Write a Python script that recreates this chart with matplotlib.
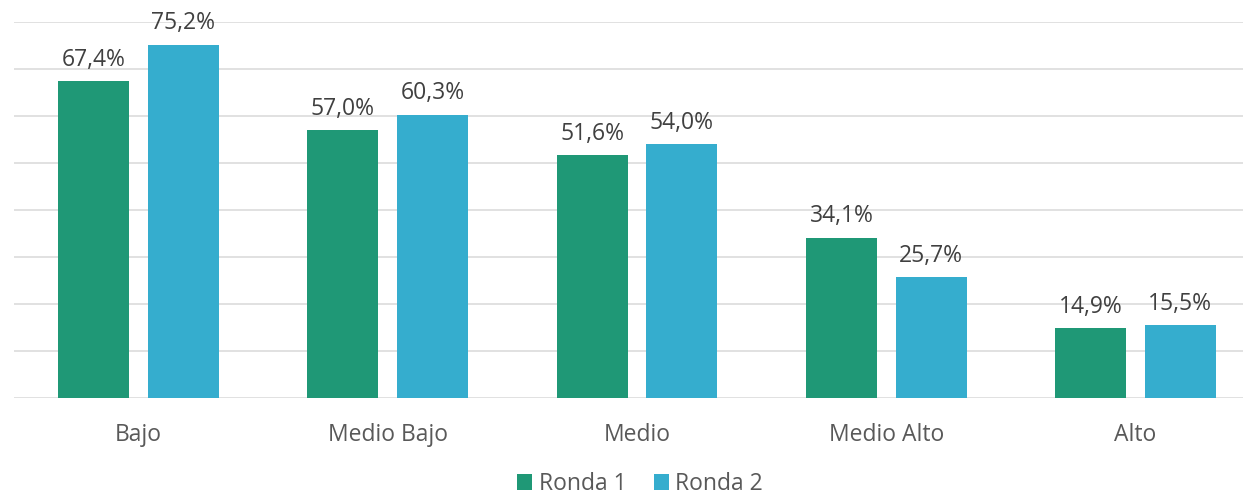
import matplotlib.pyplot as plt
import numpy as np

categories = ["Bajo", "Medio Bajo", "Medio", "Medio Alto", "Alto"]
ronda_1 = [67.4, 57.0, 51.6, 34.1, 14.9]
ronda_2 = [75.2, 60.3, 54.0, 25.7, 15.5]
series_names = ["Ronda 1", "Ronda 2"]

GREEN = "#1f9876"
BLUE = "#35adce"
TEXT = "#404040"
GRAY = "#595959"


def fmt(v):
    return f"{v:.1f}%".replace(".", ",")


def main():
    plt.rcParams["font.family"] = ["Open Sans", "DejaVu Sans"]
    fig = plt.figure(figsize=(12.43, 4.97), dpi=100)
    ax = fig.add_axes([14 / 1243, 1 - 398 / 497, 1 - 14 / 1243, (398 - 22) / 497])

    x = np.arange(len(categories))
    w = 0.285
    off = 0.18
    b1 = ax.bar(x - off, ronda_1, w, color=GREEN, label=series_names[0], zorder=3)
    b2 = ax.bar(x + off, ronda_2, w, color=BLUE, label=series_names[1], zorder=3)

    for bars, vals in ((b1, ronda_1), (b2, ronda_2)):
        for bar, v in zip(bars, vals):
            ax.annotate(fmt(v), (bar.get_x() + bar.get_width() / 2, v),
                        xytext=(0, 11), textcoords="offset points",
                        ha="center", va="baseline", fontsize=16.5, color=TEXT)

    ax.set_ylim(0, 80)
    ax.set_xlim(-0.5, 4 + (1243 - 1135.5) / 249.25)
    ax.set_yticks(np.arange(0, 81, 10))
    ax.yaxis.grid(True, color="#dcdcdc", linewidth=1.2, zorder=0)
    ax.tick_params(axis="y", left=False, labelleft=False)
    ax.tick_params(axis="x", length=0, pad=18, labelsize=16.5, labelcolor=GRAY)
    ax.set_xticks(x)
    ax.set_xticklabels(categories)
    for s in ax.spines.values():
        s.set_visible(False)

    fig.legend(loc="center", bbox_to_anchor=(640 / 1243, 1 - 484 / 497),
               ncol=2, frameon=False, fontsize=16.5, labelcolor=GRAY,
               handlelength=0.65, handleheight=0.65, handletextpad=0.3,
               columnspacing=1.2)

    fig.savefig("out.png", dpi=100)


if __name__ == "__main__":
    main()
